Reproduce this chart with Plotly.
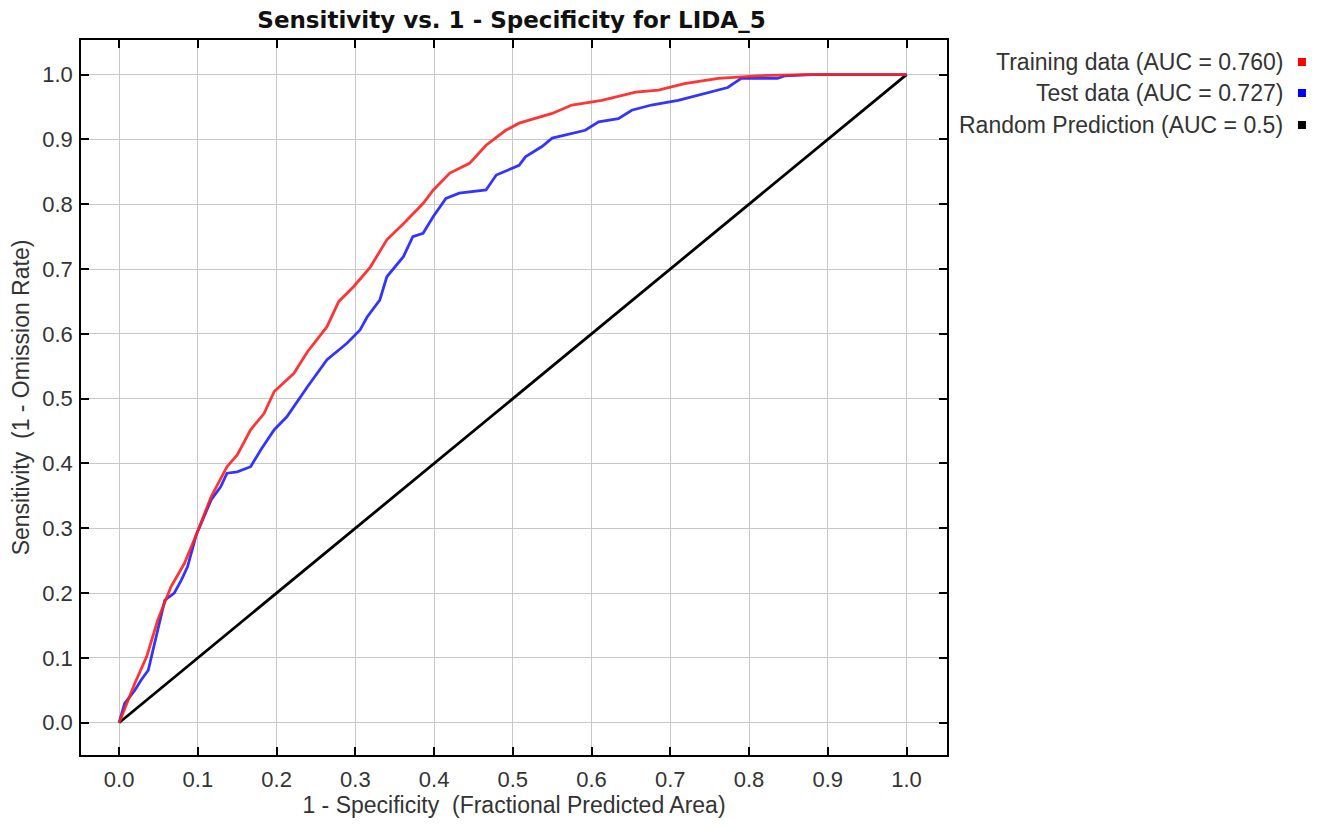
import plotly.graph_objects as go

train_x = [0, 0.020, 0.035, 0.049, 0.066, 0.083, 0.098, 0.117, 0.137, 0.150, 0.167, 0.184, 0.197,
           0.222, 0.239, 0.264, 0.279, 0.298, 0.319, 0.340, 0.361, 0.386, 0.399, 0.420, 0.445,
           0.466, 0.491, 0.508, 0.550, 0.575, 0.613, 0.656, 0.685, 0.718, 0.761, 0.811, 0.870, 1.0]
train_y = [0, 0.061, 0.102, 0.158, 0.210, 0.246, 0.290, 0.349, 0.395, 0.413, 0.452, 0.477, 0.511,
           0.539, 0.572, 0.611, 0.650, 0.673, 0.703, 0.745, 0.770, 0.801, 0.822, 0.848, 0.863,
           0.891, 0.914, 0.925, 0.940, 0.953, 0.960, 0.973, 0.976, 0.986, 0.994, 0.998, 1.0, 1.0]

test_x = [0, 0.007, 0.020, 0.028, 0.037, 0.043, 0.047, 0.058, 0.070, 0.079, 0.087, 0.098, 0.117,
          0.129, 0.137, 0.150, 0.167, 0.180, 0.197, 0.213, 0.239, 0.264, 0.289, 0.306, 0.315,
          0.331, 0.340, 0.361, 0.373, 0.386, 0.399, 0.415, 0.432, 0.466, 0.479, 0.508, 0.516,
          0.537, 0.550, 0.592, 0.609, 0.634, 0.651, 0.676, 0.710, 0.740, 0.773, 0.790, 0.836,
          0.845, 0.880, 1.0]
test_y = [0, 0.030, 0.050, 0.066, 0.081, 0.112, 0.133, 0.189, 0.200, 0.220, 0.241, 0.290, 0.344,
          0.364, 0.385, 0.387, 0.395, 0.421, 0.452, 0.472, 0.518, 0.560, 0.585, 0.606, 0.626,
          0.652, 0.688, 0.719, 0.750, 0.755, 0.781, 0.809, 0.817, 0.822, 0.845, 0.860, 0.873,
          0.889, 0.902, 0.914, 0.927, 0.932, 0.945, 0.953, 0.960, 0.970, 0.980, 0.994, 0.994,
          0.998, 1.0, 1.0]

random_x = [0.0, 1.0]
random_y = [0.0, 1.0]

tick_vals = [0.0, 0.1, 0.2, 0.3, 0.4, 0.5, 0.6, 0.7, 0.8, 0.9, 1.0]
tick_text = ["0.0", "0.1", "0.2", "0.3", "0.4", "0.5", "0.6", "0.7", "0.8", "0.9", "1.0"]

legend_labels = ["Training data (AUC = 0.760)", "Test data (AUC = 0.727)", "Random Prediction (AUC = 0.5)"]
legend_colors = ["#ff0000", "#0000ff", "#000000"]

RED = "rgba(255,30,30,0.9)"
BLUE = "rgba(30,30,255,0.9)"

# page is offset by 8px body margin; target plot area (page coords) 76..947 x 40..755
W, H = 1311, 818
PL, PT, PW, PH = 68, 32, 871, 715

fig = go.Figure()
fig.add_trace(go.Scatter(x=random_x, y=random_y, mode="lines",
                         line=dict(color="#000000", width=2.8), showlegend=False, hoverinfo="skip"))
fig.add_trace(go.Scatter(x=test_x, y=test_y, mode="lines",
                         line=dict(color=BLUE, width=2.8), showlegend=False))
fig.add_trace(go.Scatter(x=train_x, y=train_y, mode="lines",
                         line=dict(color=RED, width=2.8), showlegend=False))

FONT = "Liberation Sans, Arial, sans-serif"
axis_common = dict(
    showgrid=True, gridcolor="#c8c8c8", gridwidth=1.2,
    showline=True, linecolor="#000000", linewidth=1.6, mirror="allticks",
    ticks="inside", ticklen=8, tickcolor="#000000", tickwidth=1.6,
    tickvals=tick_vals, ticktext=tick_text, zeroline=False,
    tickfont=dict(family=FONT, size=22, color="#333333"),
)

fig.update_layout(
    width=W, height=H,
    margin=dict(l=PL, r=W - PL - PW, t=PT, b=H - PT - PH),
    paper_bgcolor="white", plot_bgcolor="white",
    title=dict(text="<b>Sensitivity vs. 1 - Specificity for LIDA_5</b>",
               x=(PL + PW / 2) / W, xanchor="center", y=1 - 12 / H, yanchor="middle",
               font=dict(family="DejaVu Sans, sans-serif", size=23, color="#111111")),
    xaxis=dict(range=[-0.0484, 1.0514], ticklabelstandoff=4,
               title=dict(text="1 - Specificity  (Fractional Predicted Area)", standoff=6,
                          font=dict(family=FONT, size=23, color="#333333")),
               **axis_common),
    yaxis=dict(range=[-0.0498, 1.0533], ticklabelstandoff=2,
               title=dict(text="Sensitivity  (1 - Omission Rate)", standoff=6,
                          font=dict(family=FONT, size=23, color="#333333")),
               **axis_common),
    showlegend=False,
)

row_py = [62, 93, 125]
for lab, col, py in zip(legend_labels, legend_colors, row_py):
    yp = (755 - py) / PH
    fig.add_annotation(text=lab, xref="paper", yref="paper", x=(1287 - 76) / PW, y=yp,
                       xanchor="right", yanchor="middle", showarrow=False,
                       font=dict(family=FONT, size=23, color="#333333"))
    fig.add_shape(type="rect", xref="paper", yref="paper", xsizemode="pixel", ysizemode="pixel",
                  xanchor=(1304 - 76) / PW, yanchor=yp, x0=-4, x1=4, y0=-4, y1=4,
                  fillcolor=col, line=dict(width=0))

fig.write_html("out.html")
